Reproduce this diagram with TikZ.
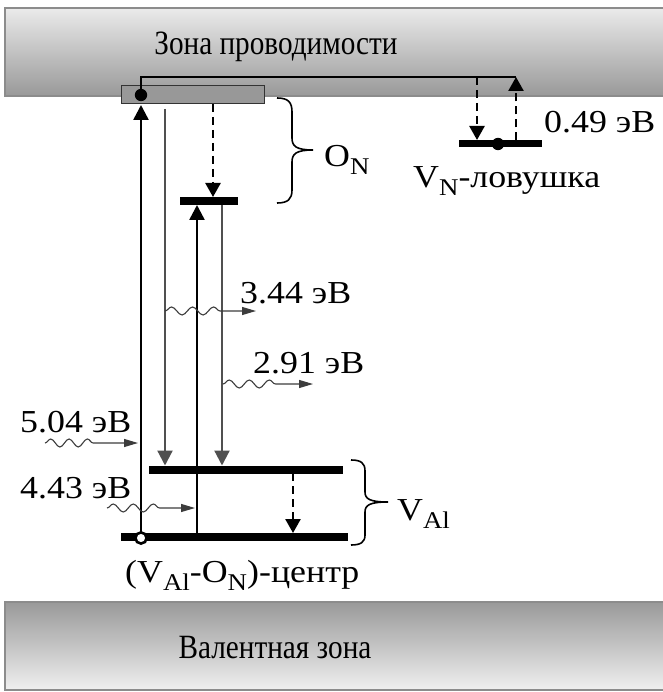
\documentclass[tikz,border=0pt]{standalone}
\usepackage{fontspec}
\setmainfont{Liberation Serif}
\newfontfamily\lblfont[FakeStretch=1.12]{Liberation Serif}
\newfontfamily\bandfont[FakeStretch=0.86]{Liberation Serif}
\usetikzlibrary{arrows.meta,decorations.pathmorphing}
\definecolor{linegray}{RGB}{80,80,80}
\definecolor{wavegray}{RGB}{60,60,60}
\definecolor{rectgray}{RGB}{152,152,152}
\definecolor{bandedge}{RGB}{140,140,140}
\newcommand\lowsub[1]{\raisebox{-8pt}{\fontsize{24}{24}\selectfont #1}}
\begin{document}
\begin{tikzpicture}[x=1pt,y=-1pt,
  lbl/.style={inner sep=0pt, font=\lblfont\fontsize{32}{38}\selectfont, anchor=base west},
  bandlbl/.style={inner sep=0pt, font=\bandfont\fontsize{34}{40}\selectfont, anchor=base},
  levelbar/.style={line width=8pt},
  uparrow/.style={line width=2.5pt, -{Triangle[length=15pt,width=15pt]}},
  downarrow/.style={linegray, line width=2.2pt, -{Triangle[length=15pt,width=15pt]}},
  dasharrow/.style={line width=2.5pt, dash pattern=on 8pt off 5pt, -{Triangle[length=14pt,width=15pt]}},
  wave/.style={wavegray, line width=1.1pt, -{Triangle[length=14pt,width=8pt]}},
  snk/.style={decoration={snake, segment length=#1, amplitude=4pt}},
  bracepath/.style={line width=1.6pt}
]
\useasboundingbox (0,0) rectangle (662,692);

% bands
\path[draw=bandedge, line width=1.2pt, top color=black!8, bottom color=black!40]
  (5,8) rectangle (670,96);
\path[draw=bandedge, line width=1.2pt, top color=black!40, bottom color=black!6]
  (5,602) rectangle (670,690);
\node[bandlbl] (cbl) at (276,55) {Зона проводимости};
\node[bandlbl] (vbl) at (275,658) {Валентная зона};

% O_N rectangle
\coordinate (onA) at (121,86);
\coordinate (onB) at (264,104);
\path[draw=black!80, line width=1pt, fill=rectgray] (onA) rectangle (onB);

% coordinates
\coordinate (dot1) at (141,95);
\coordinate (corn1) at (141,77);
\coordinate (corn2) at (516,77);
\coordinate (vnL) at (459,144);
\coordinate (vnR) at (542,144);
\coordinate (vndot) at (498,144);
\coordinate (vnd1) at (477,77);
\coordinate (vnd2) at (477,140);
\coordinate (vnu1) at (516,140.5);
\coordinate (onL) at (180,201);
\coordinate (onR) at (238,201);
\coordinate (vaUL) at (149,469.5);
\coordinate (vaUR) at (343,469.5);
\coordinate (vaLL) at (121,537);
\coordinate (vaLR) at (348,537);
\coordinate (hole) at (141,538);

% levels
\draw[levelbar] (onL) -- (onR);
\draw[levelbar] (vaUL) -- (vaUR);
\draw[levelbar] (vaLL) -- (vaLR);
\draw[line width=7pt] (vnL) -- (vnR);

% top connection
\draw[line width=2.5pt] (dot1) -- (corn1) -- (corn2);
\draw[dasharrow] (vnd1) -- (vnd2);
\draw[dasharrow] (vnu1) -- (corn2);
\fill (dot1) circle (6.2pt);
\fill (vndot) circle (6.2pt);

% vertical transitions
\coordinate (a1s) at (141,537);
\coordinate (a1e) at (141,105);
\coordinate (a2s) at (165,109);
\coordinate (a2e) at (165,465.5);
\coordinate (a3s) at (197,537);
\coordinate (a3e) at (197,205);
\coordinate (a4s) at (222,205);
\coordinate (a4e) at (222,465.5);
\coordinate (d1s) at (213,104);
\coordinate (d1e) at (213,197);
\coordinate (d2s) at (293,473);
\coordinate (d2e) at (293,533);
\draw[uparrow] (a1s) -- (a1e);
\draw[downarrow] (a2s) -- (a2e);
\draw[uparrow] (a3s) -- (a3e);
\draw[downarrow] (a4s) -- (a4e);
\draw[dasharrow] (d1s) -- (d1e);
\draw[dasharrow] (d2s) -- (d2e);
\draw[line width=2.6pt, fill=white] (hole) circle (5.6pt);

% waves
\coordinate (w1s) at (45,443);  \coordinate (w1m) at (100,443); \coordinate (w1e) at (138,443);
\coordinate (w2s) at (107,508); \coordinate (w2m) at (167,508); \coordinate (w2e) at (195,508);
\coordinate (w3s) at (165,311); \coordinate (w3m) at (228,311); \coordinate (w3e) at (256,311);
\coordinate (w4s) at (223,384); \coordinate (w4m) at (283,384); \coordinate (w4e) at (313,384);
\draw[wave] (w1s) decorate[snk=18.33pt]{-- (w1m)} -- (w1e);
\draw[wave] (w2s) decorate[snk=20pt]{-- (w2m)} -- (w2e);
\draw[wave] (w3s) decorate[snk=21pt]{-- (w3m)} -- (w3e);
\draw[wave] (w4s) decorate[snk=20pt]{-- (w4m)} -- (w4e);

% braces
\draw[bracepath] (277,98) .. controls (288,98) and (292,102) .. (292,112) -- (292,138)
  .. controls (292,146) and (296,150) .. (313,150)
  .. controls (296,150) and (292,154) .. (292,162) -- (292,190)
  .. controls (292,199) and (288,203) .. (277,203);
\draw[bracepath] (351,460) .. controls (361,460) and (365,463) .. (365,471) -- (365,492)
  .. controls (365,499) and (370,502) .. (388,502)
  .. controls (370,502) and (365,505) .. (365,512) -- (365,535)
  .. controls (365,542) and (361,545) .. (351,545);

% labels
\node[lbl] (l049) at (544,133) {0.49 эВ};
\node[lbl] (lvn) at (413,188) {V\lowsub{N}-ловушка};
\node[lbl] (lon) at (324,167) {O\lowsub{N}};
\node[lbl] (lval) at (397,520) {V\lowsub{Al}};
\node[lbl] (l344) at (240,303) {3.44 эВ};
\node[lbl] (l291) at (253,373) {2.91 эВ};
\node[lbl] (l504) at (20,432) {5.04 эВ};
\node[lbl] (l443) at (20,498) {4.43 эВ};
\node[lbl] (lcent) at (125,582) {(V\lowsub{Al}-O\lowsub{N})-центр};
\end{tikzpicture}
\end{document}
